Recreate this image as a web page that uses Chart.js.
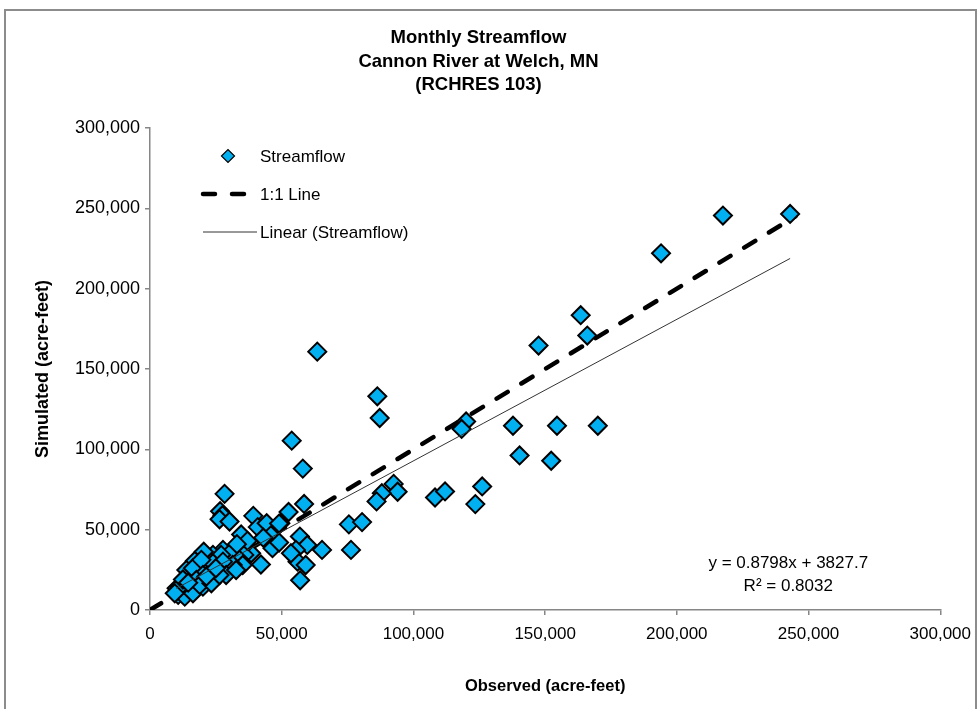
<!DOCTYPE html>
<html>
<head>
<meta charset="utf-8">
<title>Monthly Streamflow - Cannon River at Welch, MN</title>
<script src="https://cdn.jsdelivr.net/npm/chart.js@4.4.1/dist/chart.umd.min.js"></script>
<style>
  html, body { margin: 0; padding: 0; background: #fff; }
  #wrap { position: relative; width: 980px; height: 709px; overflow: hidden; }
  #frame { position: absolute; left: 4px; top: 9px; width: 973px; height: 760px; border: 2px solid #8c8c8c; box-sizing: border-box; }
  #chart { position: absolute; left: 0; top: 0; }
</style>
</head>
<body>
<div id="wrap">
  <div id="frame"></div>
  <canvas id="chart" width="980" height="709"></canvas>
</div>
<script>
// monthly volumes, acre-feet
const observed = [243000, 217500, 194000, 163500, 166000, 147500, 63500, 86300, 87200, 53800,
  120000, 118300, 137800, 154500, 170000, 140300, 152300, 58000, 92500, 94000,
  88000, 86000, 108200, 112000, 126100, 123500, 75500, 80500, 76300, 57000,
  65300, 28300, 58500, 52600, 49500, 39200, 26600, 27500, 26400, 30200,
  40900, 44300, 49000, 34600, 45900, 46500, 56900, 59700, 55400, 56000,
  59100, 42100, 38400, 35500, 35800, 27700, 30800, 34000, 35200, 31400,
  23900, 20400, 27000, 19500, 23900, 27700, 16500, 17000, 13800, 16300,
  19500, 28900, 32700, 20100, 17600, 22600, 15700, 10100, 10700, 13200,
  16300, 20100, 11300, 9400, 18900, 23300, 26400, 21400, 12500, 14500,
  53500, 49000, 43000, 37000, 33000, 25000];
const simulated = [246500, 245500, 222000, 183500, 170800, 164600, 160800, 133000, 119500, 105400,
  117300, 112700, 114700, 114700, 114700, 96200, 92900, 88000, 78500, 73600,
  72700, 67600, 70000, 73800, 76900, 65900, 53300, 54700, 37400, 18500,
  37400, 72300, 66000, 61000, 54000, 58600, 61500, 59000, 56500, 55100,
  51600, 54000, 53800, 47000, 46500, 38500, 45700, 40500, 37400, 30100,
  28000, 28300, 35300, 39500, 34300, 37400, 36000, 31200, 28000, 28000,
  34300, 36300, 34300, 29100, 29100, 30100, 28500, 30500, 24900, 26000,
  31200, 21800, 24900, 21800, 18700, 18700, 14500, 13500, 9400, 8300,
  10400, 14500, 14500, 10400, 15600, 16600, 21800, 20800, 19000, 17000,
  35300, 42000, 45000, 43000, 41000, 26000];

const oneToOneX = [0, 245000];
const oneToOneY = [0, 245000];
const trendX = [10000, 243000];
const trendY = [13500, 218800];
const trendSlope = 0.8798;
const trendIntercept = 3827.7;
const rSquared = 0.8032;

const titleLines = ['Monthly Streamflow', 'Cannon River at Welch, MN', '(RCHRES 103)'];
const xTitle = 'Observed (acre-feet)';
const yTitle = 'Simulated (acre-feet)';
const axisMax = 300000;
const axisStep = 50000;

const SANS = "'Liberation Sans', Arial, sans-serif";
const AXIS_GREY = '#868686';

const toPoints = (xs, ys) => xs.map((x, i) => ({x: x, y: ys[i]}));

// legend drawn inside the plot, top-left, like the Excel one
const insideLegend = {
  id: 'insideLegend',
  afterDraw(chart) {
    const ctx = chart.ctx;
    const sets = chart.data.datasets;
    const left = chart.chartArea.left;
    const rows = [156, 194, 232];
    ctx.save();
    sets.forEach((ds, i) => {
      const y = rows[i];
      if (ds.label === 'Streamflow') {
        ctx.fillStyle = ds.backgroundColor;
        ctx.strokeStyle = ds.borderColor;
        ctx.lineWidth = 1.2;
        Chart.helpers.drawPoint(ctx, {pointStyle: 'rectRot', radius: 6.5, borderWidth: 1.2}, left + 78, y);
      } else {
        ctx.strokeStyle = ds.borderColor;
        ctx.lineWidth = ds.borderWidth;
        ctx.lineCap = ds.borderCapStyle || 'butt';
        ctx.setLineDash(ds.borderDash ? [12, 17] : []);
        ctx.beginPath();
        ctx.moveTo(left + 53, y);
        ctx.lineTo(left + 107, y);
        ctx.stroke();
        ctx.setLineDash([]);
      }
      ctx.fillStyle = '#000';
      ctx.font = '17px ' + SANS;
      ctx.textBaseline = 'middle';
      ctx.textAlign = 'left';
      ctx.fillText(ds.label, left + 110, y + 1);
    });
    ctx.restore();
  }
};

// regression equation, bottom-right
const equationLabel = {
  id: 'equationLabel',
  afterDraw(chart) {
    const ctx = chart.ctx;
    const cx = chart.chartArea.right - 152;
    ctx.save();
    ctx.fillStyle = '#000';
    ctx.font = '17px ' + SANS;
    ctx.textAlign = 'center';
    ctx.textBaseline = 'middle';
    ctx.fillText('y = ' + trendSlope + 'x + ' + trendIntercept, cx, 563);
    ctx.fillText('R\u00B2 = ' + rSquared, cx, 586);
    ctx.restore();
  }
};

new Chart(document.getElementById('chart'), {
  type: 'scatter',
  data: {
    datasets: [
      {
        label: 'Streamflow',
        data: toPoints(observed, simulated),
        pointStyle: 'rectRot',
        pointRadius: 9,
        backgroundColor: '#00B0F0',
        borderColor: '#000',
        borderWidth: 2,
        order: 2
      },
      {
        label: '1:1 Line',
        data: toPoints(oneToOneX, oneToOneY),
        showLine: true,
        pointRadius: 0,
        borderColor: '#000',
        borderWidth: 4.5,
        borderDash: [13, 16],
        borderCapStyle: 'round',
        order: 3
      },
      {
        label: 'Linear (Streamflow)',
        data: toPoints(trendX, trendY),
        showLine: true,
        pointRadius: 0,
        borderColor: '#333',
        borderWidth: 1,
        order: 1
      }
    ]
  },
  options: {
    responsive: false,
    animation: false,
    events: [],
    layout: {padding: {left: 12, right: 35, top: 0, bottom: 0}},
    plugins: {
      legend: {display: false},
      tooltip: {enabled: false},
      title: {
        display: true,
        text: titleLines,
        color: '#000',
        font: {family: SANS, size: 18.5, weight: 'bold', lineHeight: '23.5px'},
        padding: {top: 26.5, bottom: 31}
      }
    },
    scales: {
      x: {
        type: 'linear',
        min: 0,
        max: axisMax,
        ticks: {
          stepSize: axisStep,
          color: '#000',
          padding: 9,
          maxRotation: 0,
          font: {family: SANS, size: 17},
          callback: v => v.toLocaleString('en-US')
        },
        grid: {drawOnChartArea: false, tickLength: 5, color: AXIS_GREY, lineWidth: 1.5},
        border: {color: AXIS_GREY, width: 1.5},
        title: {
          display: true,
          text: xTitle,
          color: '#000',
          font: {family: SANS, size: 16.5, weight: 'bold'},
          padding: {top: 0, bottom: 13}
        },
        afterFit: s => { s.height = 99; }
      },
      y: {
        type: 'linear',
        min: 0,
        max: axisMax,
        ticks: {
          stepSize: axisStep,
          color: '#000',
          padding: 5,
          font: {family: SANS, size: 18},
          callback: v => v.toLocaleString('en-US')
        },
        grid: {drawOnChartArea: false, tickLength: 5, color: AXIS_GREY, lineWidth: 1.5},
        border: {color: AXIS_GREY, width: 1.5},
        title: {
          display: true,
          text: yTitle,
          color: '#000',
          font: {family: SANS, size: 18, weight: 'bold'},
          padding: {top: 20, bottom: 0}
        },
        afterFit: s => { s.width = 138; }
      }
    }
  },
  plugins: [insideLegend, equationLabel]
});
</script>
</body>
</html>
